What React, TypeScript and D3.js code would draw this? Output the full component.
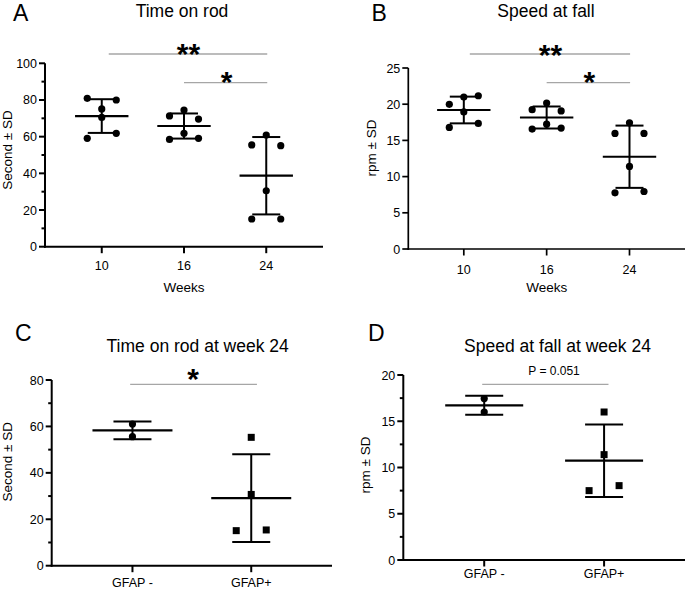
import React from 'react';
import * as d3 from 'd3';

// ---------- DATA ----------
const weekCategories = ['10', '16', '24'];
const timeOnRodWeek10 = [80.9, 80.0, 75.1, 70.5, 59.1, 61.8];
const timeOnRodWeek16 = [71.3, 74.5, 69.6, 58.5, 61.8, 59.1];
const timeOnRodWeek24 = [60.9, 55.5, 55.1, 30.5, 15.1, 15.1];

const speedWeek10 = [19.98, 20.99, 21.17, 18.93, 16.79, 17.34];
const speedWeek16 = [19.25, 20.16, 19.07, 16.56, 17.24, 16.7];
const speedWeek24 = [17.43, 15.97, 15.97, 11.4, 7.76, 7.94];

const gfapCategories = ['GFAP -', 'GFAP+'];
const timeOnRodGfapNeg = [61.0, 55.6];
const timeOnRodGfapPos = [55.3, 30.7, 15.1, 15.4];
const speedGfapNeg = [17.45, 16.0];
const speedGfapPos = [16.0, 11.39, 7.5, 8.04];

const yTicksA = [0, 20, 40, 60, 80, 100];
const yMinorA = [10, 30, 50, 70, 90];
const yTicksB = [0, 5, 10, 15, 20, 25];
const yMinorB: number[] = [];
const yTicksC = [0, 20, 40, 60, 80];
const yMinorC = [10, 30, 50, 70];
const yTicksD = [0, 5, 10, 15, 20];
const yMinorD = [2.5, 7.5, 12.5, 17.5];

const sigA = [
  { from: '10', to: '24', label: '**' },
  { from: '16', to: '24', label: '*' },
];
const sigB = [
  { from: '10', to: '24', label: '**' },
  { from: '16', to: '24', label: '*' },
];
const sigC = [{ from: 'GFAP -', to: 'GFAP+', label: '*' }];
const sigD = [{ from: 'GFAP -', to: 'GFAP+', label: 'P = 0.051' }];

// ---------- LAYOUT / STYLE ----------
const FONT = 'Liberation Sans, Arial, Helvetica, sans-serif';

type SigStyle = { y: number; dx1: number; dx2: number; labelDx: number; labelY: number; big: boolean };

type PanelCfg = {
  letter: string;
  letterX: number;
  letterY: number;
  title: string;
  titleX: number;
  titleY: number;
  yLabel: string;
  yLabelX: number;
  yLabelY: number;
  xLabel?: string;
  xLabelY?: number;
  categories: string[];
  groups: number[][];
  shapes: ('circle' | 'square')[];
  yDomain: [number, number];
  yTicks: number[];
  yMinor: number[];
  x0: number;
  x1: number;
  yTop: number;
  yBottom: number;
  padding: number;
  axisWidth: number;
  xTickLabelY: number;
  meanHalf: number;
  capHalf: number;
  slotWidth: number;
  sig: { from: string; to: string; label: string }[];
  sigStyle: SigStyle[];
};

const panels: PanelCfg[] = [
  {
    letter: 'A', letterX: 13, letterY: 20.5,
    title: 'Time on rod', titleX: 182, titleY: 16.5,
    yLabel: 'Second ± SD', yLabelX: 11.5, yLabelY: 150,
    xLabel: 'Weeks', xLabelY: 291.5,
    categories: weekCategories,
    groups: [timeOnRodWeek10, timeOnRodWeek16, timeOnRodWeek24],
    shapes: ['circle', 'circle', 'circle'],
    yDomain: [0, 100], yTicks: yTicksA, yMinor: yMinorA,
    x0: 45, x1: 323, yTop: 63.3, yBottom: 246.7, padding: 0.69, axisWidth: 2,
    xTickLabelY: 270, meanHalf: 26.7, capHalf: 14, slotWidth: 14.5,
    sig: sigA,
    sigStyle: [
      { y: 54, dx1: 7, dx2: 1, labelDx: 0.5, labelY: 46.7, big: true },
      { y: 82.7, dx1: 0, dx2: 1, labelDx: 1, labelY: 75, big: true },
    ],
  },
  {
    letter: 'B', letterX: 371.5, letterY: 20.5,
    title: 'Speed at fall', titleX: 546, titleY: 16.5,
    yLabel: 'rpm ± SD', yLabelX: 375.5, yLabelY: 148,
    xLabel: 'Weeks', xLabelY: 291.5,
    categories: weekCategories,
    groups: [speedWeek10, speedWeek16, speedWeek24],
    shapes: ['circle', 'circle', 'circle'],
    yDomain: [0, 25], yTicks: yTicksB, yMinor: yMinorB,
    x0: 408.3, x1: 685, yTop: 68, yBottom: 249, padding: 0.67, axisWidth: 1.7,
    xTickLabelY: 274, meanHalf: 26.7, capHalf: 14, slotWidth: 14.5,
    sig: sigB,
    sigStyle: [
      { y: 54, dx1: 6, dx2: 0.6, labelDx: 0.5, labelY: 48.3, big: true },
      { y: 82.7, dx1: 0, dx2: 0.6, labelDx: 1, labelY: 75.5, big: true },
    ],
  },
  {
    letter: 'C', letterX: 15, letterY: 341,
    title: 'Time on rod at week 24', titleX: 197.7, titleY: 352,
    yLabel: 'Second ± SD', yLabelX: 12, yLabelY: 461.7,
    categories: gfapCategories,
    groups: [timeOnRodGfapNeg, timeOnRodGfapPos],
    shapes: ['circle', 'square'],
    yDomain: [0, 80], yTicks: yTicksC, yMinor: yMinorC,
    x0: 51.7, x1: 332, yTop: 380, yBottom: 565.7, padding: 0.68, axisWidth: 2,
    xTickLabelY: 587, meanHalf: 40, capHalf: 19, slotWidth: 15,
    sig: sigC,
    sigStyle: [{ y: 384.3, dx1: -2.3, dx2: 5.7, labelDx: -0.5, labelY: 372, big: true }],
  },
  {
    letter: 'D', letterX: 368, letterY: 341,
    title: 'Speed at fall at week 24', titleX: 557.5, titleY: 352,
    yLabel: 'rpm ± SD', yLabelX: 369.5, yLabelY: 465,
    categories: gfapCategories,
    groups: [speedGfapNeg, speedGfapPos],
    shapes: ['circle', 'square'],
    yDomain: [0, 20], yTicks: yTicksD, yMinor: yMinorD,
    x0: 403.3, x1: 685, yTop: 375, yBottom: 560, padding: 0.675, axisWidth: 2,
    xTickLabelY: 577.5, meanHalf: 39, capHalf: 19, slotWidth: 15,
    sig: sigD,
    sigStyle: [{ y: 384.3, dx1: -2, dx2: 4.4, labelDx: 8.7, labelY: 370.5, big: false }],
  },
];

// symmetric beeswarm slots: cluster nearby points (in pixel space) and spread them
function swarmSlots(values: number[], y: (v: number) => number, threshold: number): number[] {
  const idx = values.map((_, i) => i).sort((a, b) => y(values[a]) - y(values[b]));
  const slots = new Array(values.length).fill(0);
  let cluster: number[] = [];
  const flush = () => {
    const members = [...cluster].sort((a, b) => a - b);
    const n = members.length;
    let offs: number[];
    if (n % 2 === 1) offs = members.map((_, k) => k - (n - 1) / 2);
    else offs = members.map((_, k) => {
      const h = n / 2;
      return k < h ? k - h : k - h + 1;
    });
    members.forEach((m, k) => (slots[m] = offs[k]));
    cluster = [];
  };
  idx.forEach((i, k) => {
    if (k > 0 && Math.abs(y(values[i]) - y(values[idx[k - 1]])) >= threshold) flush();
    cluster.push(i);
  });
  if (cluster.length) flush();
  return slots;
}

function Panel({ cfg }: { cfg: PanelCfg }) {
  const x = d3.scalePoint<string>().domain(cfg.categories).range([cfg.x0, cfg.x1]).padding(cfg.padding);
  const y = d3.scaleLinear().domain(cfg.yDomain).range([cfg.yBottom, cfg.yTop]);
  const r = 3.6;
  const sq = 7;
  return (
    <g>
      <text x={cfg.letterX} y={cfg.letterY} fontSize={23} fontFamily={FONT}>{cfg.letter}</text>
      <text x={cfg.titleX} y={cfg.titleY} fontSize={17.5} fontFamily={FONT} textAnchor="middle">{cfg.title}</text>
      <text
        transform={`translate(${cfg.yLabelX},${cfg.yLabelY}) rotate(-90)`}
        fontSize={13.5} fontFamily={FONT} textAnchor="middle"
      >{cfg.yLabel}</text>
      {cfg.xLabel && (
        <text x={(x(cfg.categories[0])! + x(cfg.categories[cfg.categories.length - 1])!) / 2} y={cfg.xLabelY}
          fontSize={13.5} fontFamily={FONT} textAnchor="middle">{cfg.xLabel}</text>
      )}
      {/* axes */}
      <line x1={cfg.x0} x2={cfg.x0} y1={cfg.yTop} y2={cfg.yBottom + cfg.axisWidth / 2} stroke="#000" strokeWidth={cfg.axisWidth} />
      <line x1={cfg.x0 - cfg.axisWidth / 2} x2={cfg.x1} y1={cfg.yBottom} y2={cfg.yBottom} stroke="#000" strokeWidth={cfg.axisWidth} />
      {cfg.yTicks.map((t) => (
        <g key={'yt' + t}>
          <line x1={cfg.x0 - 6} x2={cfg.x0} y1={y(t)} y2={y(t)} stroke="#000" strokeWidth={cfg.axisWidth} />
          <text x={cfg.x0 - 8} y={y(t)} dy="0.36em" fontSize={12.5} fontFamily={FONT} textAnchor="end">{t}</text>
        </g>
      ))}
      {cfg.yMinor.map((t) => (
        <line key={'ym' + t} x1={cfg.x0 - 3.5} x2={cfg.x0} y1={y(t)} y2={y(t)} stroke="#000" strokeWidth={cfg.axisWidth} />
      ))}
      {cfg.categories.map((c) => (
        <g key={'xt' + c}>
          <line x1={x(c)} x2={x(c)} y1={cfg.yBottom} y2={cfg.yBottom + 6.5} stroke="#000" strokeWidth={cfg.axisWidth} />
          <text x={x(c)} y={cfg.xTickLabelY} fontSize={12.5} fontFamily={FONT} textAnchor="middle">{c}</text>
        </g>
      ))}
      {/* groups */}
      {cfg.groups.map((vals, gi) => {
        const cx = x(cfg.categories[gi])!;
        const m = d3.mean(vals)!;
        const sd = d3.deviation(vals)!;
        const slots = swarmSlots(vals, y, 7.5);
        return (
          <g key={'g' + gi}>
            <line x1={cx} x2={cx} y1={y(m + sd)} y2={y(m - sd)} stroke="#000" strokeWidth={2} />
            <line x1={cx - cfg.capHalf} x2={cx + cfg.capHalf} y1={y(m + sd)} y2={y(m + sd)} stroke="#000" strokeWidth={2} />
            <line x1={cx - cfg.capHalf} x2={cx + cfg.capHalf} y1={y(m - sd)} y2={y(m - sd)} stroke="#000" strokeWidth={2} />
            <line x1={cx - cfg.meanHalf} x2={cx + cfg.meanHalf} y1={y(m)} y2={y(m)} stroke="#000" strokeWidth={2.2} />
            {vals.map((v, i) => {
              const px = cx + slots[i] * cfg.slotWidth;
              const py = y(v);
              return cfg.shapes[gi] === 'circle'
                ? <circle key={i} cx={px} cy={py} r={r} fill="#000" />
                : <rect key={i} x={px - sq / 2} y={py - sq / 2} width={sq} height={sq} fill="#000" />;
            })}
          </g>
        );
      })}
      {/* significance */}
      {cfg.sig.map((s, i) => {
        const st = cfg.sigStyle[i];
        const xa = x(s.from)! + st.dx1;
        const xb = x(s.to)! + st.dx2;
        const mid = (xa + xb) / 2 + st.labelDx;
        const fs = st.big ? 30 : 12;
        const baseY = st.big ? st.labelY + fs * 0.56 : st.labelY + 4.2;
        return (
          <g key={'s' + i}>
            <line x1={xa} x2={xb} y1={st.y} y2={st.y} stroke="#a6a6a6" strokeWidth={1.3} />
            <text x={mid} y={baseY} fontSize={fs} fontWeight={st.big ? 'bold' : 'normal'} fontFamily={FONT} textAnchor="middle">{s.label}</text>
          </g>
        );
      })}
    </g>
  );
}

export default function App() {
  return (
    <svg width={685} height={589} style={{ position: 'absolute', left: 0, top: 0, background: '#fff' }}>
      <rect x={0} y={0} width={685} height={589} fill="#fff" />
      {panels.map((p) => <Panel key={p.letter} cfg={p} />)}
    </svg>
  );
}
